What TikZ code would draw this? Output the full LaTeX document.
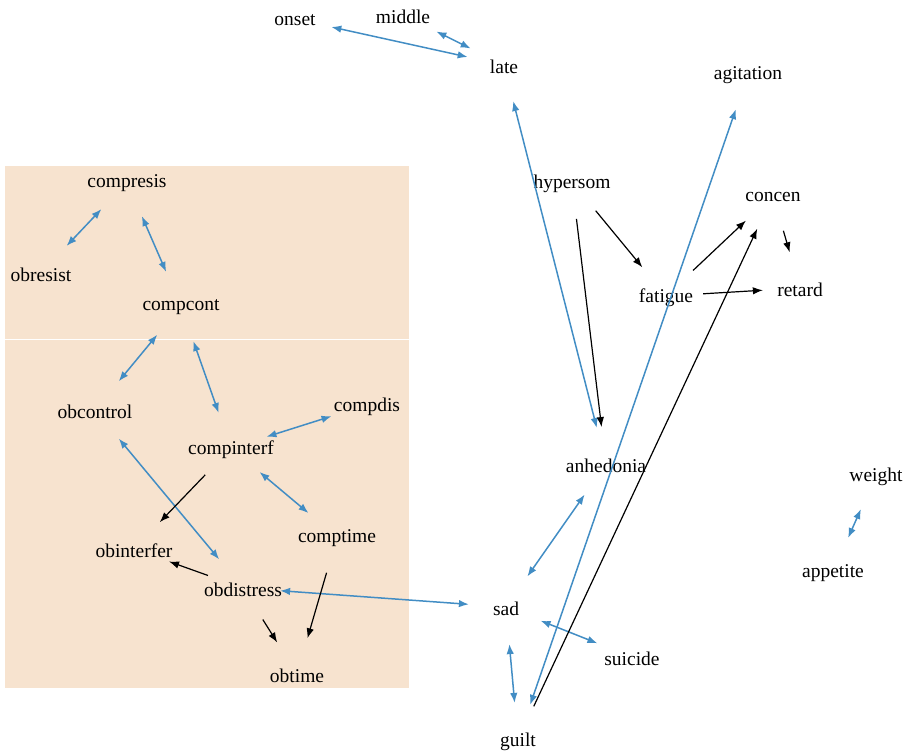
\documentclass[tikz,border=0pt]{standalone}
\usepackage{fontspec}
\setmainfont{Liberation Serif}
\usetikzlibrary{arrows.meta}
\definecolor{edgeblue}{RGB}{66,141,196}
\definecolor{groupfill}{RGB}{247,227,207}

\begin{document}
\begin{tikzpicture}[x=1pt, y=-1pt,
    vertex/.style={circle, minimum size=74pt, inner sep=0pt, label={[lbl]center:#1}},
    lbl/.style={font=\fontsize{19.5}{23}\selectfont, inner sep=0pt, yshift=-1.5pt},
    bidir/.style={edgeblue, line width=1.5pt,
        {Latex[length=10pt,width=7.5pt]}-{Latex[length=10pt,width=7.5pt]}},
    direct/.style={black, line width=1.2pt, -{Latex[length=10pt,width=7.5pt]}}]
    \useasboundingbox (0,0) rectangle (904,750);

    % 1. Nhóm (vùng tô nền)
    \fill[groupfill] (5,166) rectangle (409,339);
    \fill[groupfill] (5,340) rectangle (409,688);

    % 2. Các nút
    \foreach \n/\x/\y in {onset/295/19, middle/403/15, late/504/65,
        agitation/748/74, hypersom/572/182, concen/773/195,
        compresis/127/182, obresist/41/273, retard/800/288,
        fatigue/666/296, compcont/181/306, obcontrol/95/410,
        compdis/367/405, compinterf/231/448, anhedonia/606/464,
        weight/876/475, comptime/337/537, obinterfer/134/549,
        appetite/833/572, obdistress/243/588, sad/506/607,
        suicide/632/657, obtime/297/674, guilt/518/740} {
        \node[vertex=\n] (\n) at (\x,\y) {};
    }

    % 3. Cạnh hai chiều
    \foreach \a/\b in {onset/late, middle/late, late/anhedonia,
        agitation/guilt, compresis/obresist, compresis/compcont,
        compcont/obcontrol, compcont/compinterf, compdis/compinterf,
        obcontrol/obdistress, compinterf/comptime, obdistress/sad,
        anhedonia/sad, sad/suicide, sad/guilt, weight/appetite} {
        \draw[bidir] (\a) -- (\b);
    }

    % 4. Cạnh có hướng
    \foreach \a/\b in {hypersom/fatigue, hypersom/anhedonia,
        fatigue/concen, fatigue/retard, concen/retard, guilt/concen,
        compinterf/obinterfer, obdistress/obinterfer,
        obdistress/obtime, comptime/obtime} {
        \draw[direct] (\a) -- (\b);
    }
\end{tikzpicture}
\end{document}
